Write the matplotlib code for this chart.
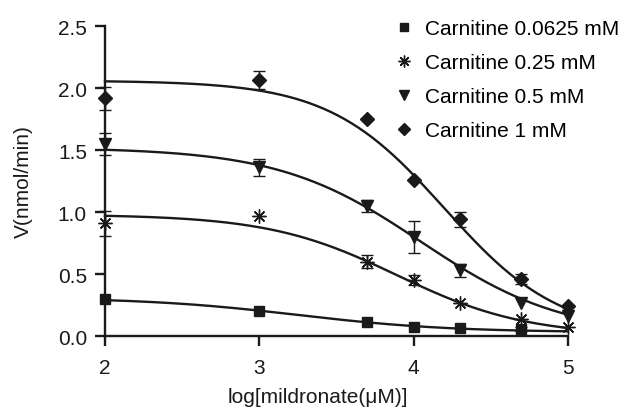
import numpy as np
import matplotlib
matplotlib.use("Agg")
import matplotlib.pyplot as plt

plt.rcParams['font.family'] = ['Liberation Sans', 'DejaVu Sans']

# log10 of mildronate concentration (uM)
log_mild = [2, 3, 3.699, 4, 4.301, 4.699, 5]

labels = ['Carnitine 0.0625 mM', 'Carnitine 0.25 mM', 'Carnitine 0.5 mM', 'Carnitine 1 mM']

v_0625 = [0.30, 0.205, 0.11, 0.075, 0.065, 0.056]
v_025 = [0.91, 0.965, 0.60, 0.45, 0.27, 0.137, 0.07]
v_05 = [1.55, 1.36, 1.05, 0.80, 0.53, 0.27, 0.165]
v_1 = [1.917, 2.065, 1.75, 1.26, 0.94, 0.46, 0.245]

# SEM, 0 where no bar is shown
e_0625 = [0, 0, 0, 0, 0, 0.015]
e_025 = [0.10, 0, 0.05, 0.04, 0, 0, 0]
e_05 = [0.09, 0.07, 0.05, 0.13, 0.05, 0, 0]
e_1 = [0.093, 0.075, 0, 0, 0.06, 0.04, 0]

# fitted dose-response parameters: top, bottom, logIC50, hill slope
fit_0625 = [0.31, 0.03, 3.25, 0.88]
fit_025 = [0.98, 0.0, 3.894, 1.04]
fit_05 = [1.52, 0.0, 4.049, 0.94]
fit_1 = [2.06, 0.0, 4.20, 1.16]

series = [
    (v_0625, e_0625, fit_0625, 's', 7.5),
    (v_025, e_025, fit_025, (8, 2, 0), 10),
    (v_05, e_05, fit_05, 'v', 9),
    (v_1, e_1, fit_1, 'D', 7),
]

FS = 15
INK = '#1a1a1a'


def dose_response(x, top, bottom, logic50, hill):
    return bottom + (top - bottom) / (1 + 10 ** ((x - logic50) * hill))


fig = plt.figure(figsize=(6.34, 4.1), dpi=100)
ax = fig.add_axes([0.1656, 0.178, 0.730, 0.756])

xs = np.linspace(2, 5, 200)
handles = []
for (vals, errs, fit, mk, ms), lab in zip(series, labels):
    x = np.array(log_mild[:len(vals)])
    y = np.array(vals)
    e = np.array(errs)
    ax.plot(xs, dose_response(xs, *fit), color=INK, lw=1.7, zorder=2, clip_on=False)
    m = e > 0
    ax.errorbar(x[m], y[m], yerr=e[m], fmt='none', ecolor=INK, elinewidth=1.0,
                capsize=4.5, capthick=1.0, zorder=3, clip_on=False)
    h, = ax.plot(x, y, linestyle='none', marker=mk, ms=ms, color=INK,
                 mec=INK, mew=1.0, zorder=4, clip_on=False, label=lab)
    handles.append(h)

ax.set_xlim(2, 5)
ax.set_ylim(0, 2.5)
ax.set_xticks([2, 3, 4, 5])
ax.set_yticks([0, 0.5, 1.0, 1.5, 2.0, 2.5])
ax.set_yticklabels(['0.0', '0.5', '1.0', '1.5', '2.0', '2.5'])
ax.spines['top'].set_visible(False)
ax.spines['right'].set_visible(False)
for s in ('left', 'bottom'):
    ax.spines[s].set_linewidth(1.7)
    ax.spines[s].set_color(INK)
ax.tick_params(direction='out', length=7, width=1.7, labelsize=FS, colors=INK)
ax.tick_params(axis='x', pad=9)
ax.tick_params(axis='y', pad=6)
ax.set_xlabel('log[mildronate(\u03bcM)]', fontsize=FS, color=INK)
ax.xaxis.set_label_coords(0.46, -0.165)
ax.set_ylabel('V(nmol/min)', fontsize=FS, color=INK)
ax.yaxis.set_label_coords(-0.155, 0.5)

fig.legend(handles=handles, loc='upper left', bbox_to_anchor=(0.592, 0.997), frameon=False,
           fontsize=FS, handlelength=1.0, handletextpad=0.5, labelspacing=0.72,
           markerscale=0.85, borderpad=0.4)

fig.savefig('out.png', dpi=100)
